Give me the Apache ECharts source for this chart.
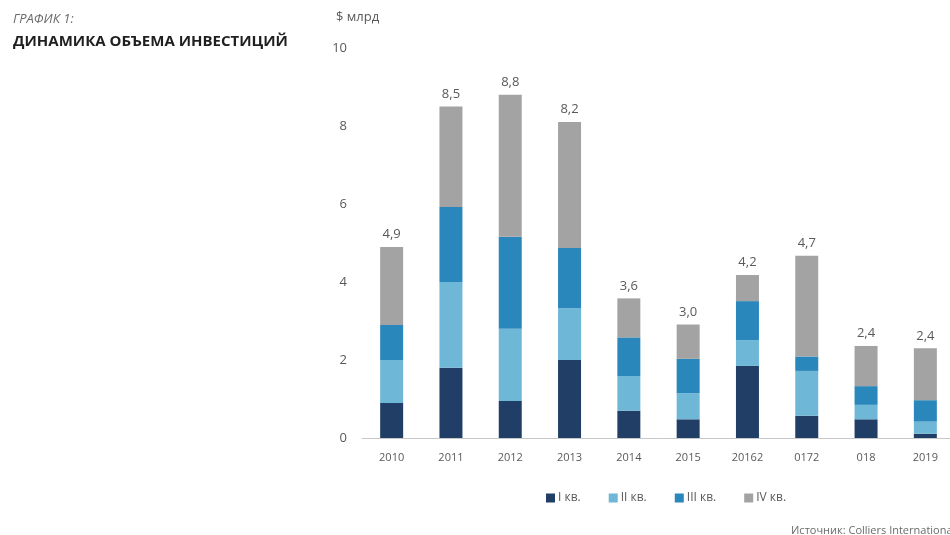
<!DOCTYPE html>
<html>
<head>
<meta charset="utf-8">
<script src="https://cdn.jsdelivr.net/npm/echarts@6/dist/echarts.min.js"></script>
<style>
  html, body { margin: 0; padding: 0; background: #fff; }
  #chart { width: 950px; height: 535px; }
</style>
</head>
<body>
<div id="chart"></div>
<script>
// data
const years = ['2010', '2011', '2012', '2013', '2014', '2015', '20162', '0172', '018', '2019']
const q1 = [0.9, 1.8, 0.95, 2.0, 0.7, 0.48, 1.85, 0.57, 0.48, 0.11]
const q2 = [1.1, 2.2, 1.85, 1.33, 0.89, 0.67, 0.66, 1.15, 0.37, 0.31]
const q3 = [0.9, 1.92, 2.36, 1.54, 0.99, 0.88, 1.0, 0.37, 0.48, 0.55]
const q4 = [2.0, 2.58, 3.64, 3.23, 1.0, 0.88, 0.67, 2.58, 1.03, 1.33]
const totals = ['4,9', '8,5', '8,8', '8,2', '3,6', '3,0', '4,2', '4,7', '2,4', '2,4']
const seriesNames = ['I кв.', 'II кв.', 'III кв.', 'IV кв.']
const colors = ['#213f66', '#6fb7d7', '#2a87bb', '#a3a3a3']

const FONT = '"Open Sans", "Noto Sans", sans-serif'
const chart = echarts.init(document.getElementById('chart'))

const seriesData = [q1, q2, q3, q4].map((vals, i) => ({
  name: seriesNames[i],
  type: 'bar',
  stack: 'total',
  barWidth: 23,
  itemStyle: { color: colors[i] },
  label: i === 3 ? {
    show: true,
    position: 'top',
    distance: 6,
    color: '#595959',
    fontSize: 13,
    fontFamily: FONT,
    formatter: (p) => totals[p.dataIndex],
  } : { show: false },
  data: vals,
}))

chart.setOption({
  animation: false,
  textStyle: { fontFamily: FONT },
  title: [
    {
      text: 'ГРАФИК 1:',
      left: 8,
      top: 8,
      textStyle: { fontSize: 13, fontStyle: 'italic', fontWeight: 'normal', color: '#6b6b6b', fontFamily: FONT },
    },
    {
      text: 'ДИНАМИКА ОБЪЕМА ИНВЕСТИЦИЙ',
      left: 8,
      top: 29,
      textStyle: { fontSize: 15, fontWeight: 'bold', color: '#1f1f1f', fontFamily: FONT },
    },
    {
      text: 'Источник: Colliers International',
      left: 786,
      top: 520,
      textStyle: { fontSize: 11, fontWeight: 'normal', color: '#6b6b6b', fontFamily: FONT },
    },
  ],
  legend: {
    data: seriesNames,
    left: 541,
    top: 487,
    itemWidth: 9,
    itemHeight: 9,
    itemGap: 28,
    icon: 'rect',
    textStyle: { fontSize: 12, color: '#595959', fontFamily: FONT, padding: [0, 0, 0, -2] },
  },
  grid: {
    left: 362,
    width: 593,
    top: 48,
    bottom: 97,
    outerBoundsMode: 'none',
  },
  xAxis: {
    type: 'category',
    data: years,
    axisLine: { lineStyle: { color: '#c8c8c8', width: 1 } },
    axisTick: { show: false },
    axisLabel: { color: '#595959', fontSize: 11, margin: 14, fontFamily: FONT },
  },
  yAxis: {
    type: 'value',
    min: 0,
    max: 10,
    interval: 2,
    name: '$ млрд',
    nameLocation: 'end',
    nameGap: 24,
    nameTextStyle: { color: '#595959', fontSize: 13, align: 'left', padding: [0, 0, 0, -26], fontFamily: FONT },
    axisLine: { show: false },
    axisTick: { show: false },
    splitLine: { show: false },
    axisLabel: { color: '#595959', fontSize: 13, margin: 15, fontFamily: FONT },
  },
  series: seriesData,
})
</script>
</body>
</html>
